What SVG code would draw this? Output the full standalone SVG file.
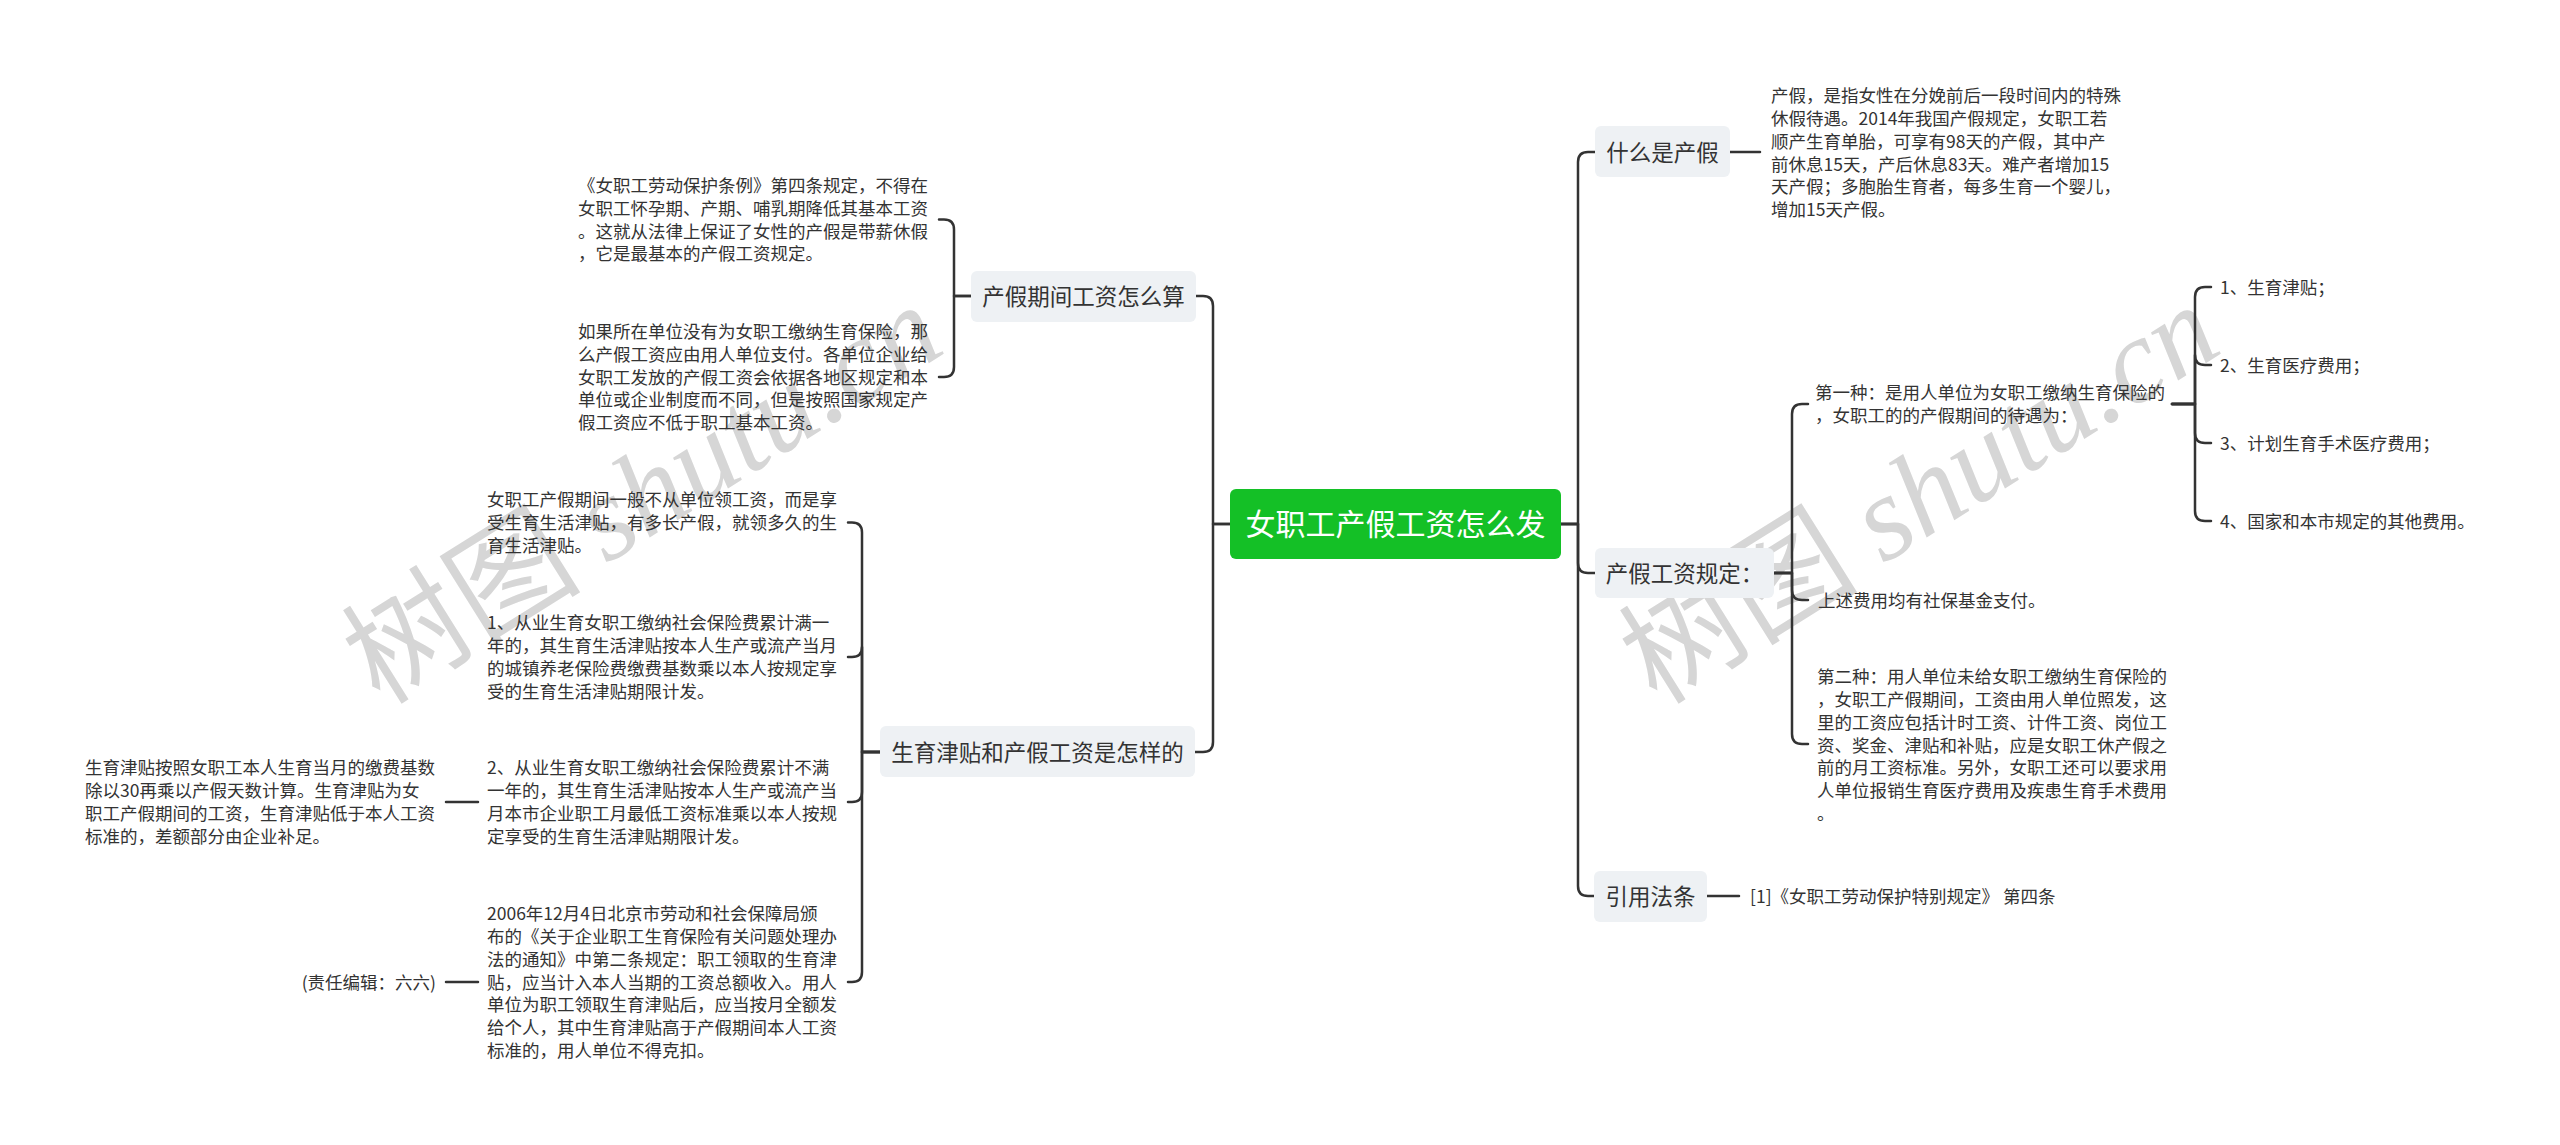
<svg xmlns="http://www.w3.org/2000/svg" width="2560" height="1145" viewBox="0 0 2560 1145">
<style>
text{font-family:'Noto Sans CJK SC','Noto Sans CJK JP',sans-serif}
.lf{font-size:17.5px;fill:#333}
.br{font-size:22.5px;fill:#333;text-anchor:middle}
.ct{font-size:30px;fill:#fff;text-anchor:middle}
.bx{fill:#EEF1F4}
.ln{fill:none;stroke:#333;stroke-width:2.5;stroke-linecap:round;stroke-linejoin:round}
.wm{font-size:120px;fill:#D6D6D6}
.wm .en{font-family:'Liberation Serif',serif;font-style:italic}
</style>
<rect width="2560" height="1145" fill="#fff"/>
<g id="watermark">
<text class="wm" transform="translate(380,706) rotate(-32)">树图 <tspan class="en">shutu.cn</tspan></text>
<text class="wm" transform="translate(1657,706) rotate(-32)">树图 <tspan class="en">shutu.cn</tspan></text>
</g>
<g id="connectors" class="ln">
<path d="M1561,524 H1578 V162 Q1578,152 1588,152 H1595"/>
<path d="M1561,524 H1578 V563 Q1578,573 1588,573 H1595"/>
<path d="M1561,524 H1578 V886 Q1578,896 1588,896 H1594"/>
<path d="M1230,524 H1213 V306 Q1213,296 1203,296 H1196"/>
<path d="M1230,524 H1213 V742 Q1213,752 1203,752 H1195"/>
<path d="M1730,152 H1760"/>
<path d="M1707,896 H1739"/>
<path d="M1774,573 H1792 V414 Q1792,404 1802,404 H1808"/>
<path d="M1774,573 H1792 V590 Q1792,600 1802,600 H1808"/>
<path d="M1774,573 H1792 V734 Q1792,744 1802,744 H1808"/>
<path d="M2172,404 H2195 V297 Q2195,287 2205,287 H2211"/>
<path d="M2172,404 H2195 V355 Q2195,365 2205,365 H2211"/>
<path d="M2172,404 H2195 V433 Q2195,443 2205,443 H2211"/>
<path d="M2172,404 H2195 V511 Q2195,521 2205,521 H2211"/>
<path d="M971,296 H954 V229.5 Q954,219.5 944,219.5 H939"/>
<path d="M971,296 H954 V367 Q954,377 944,377 H939"/>
<path d="M880,752 H862 V532.5 Q862,522.5 852,522.5 H848"/>
<path d="M880,752 H862 V647 Q862,657 852,657 H848"/>
<path d="M880,752 H862 V792 Q862,802 852,802 H848"/>
<path d="M880,752 H862 V972 Q862,982 852,982 H848"/>
<path d="M478,802 H446"/>
<path d="M478,982 H446"/>
</g>
<g id="root">
<rect x="1230" y="489" width="331" height="70" rx="6" fill="#14C026"/>
<text class="ct" x="1395.5" y="535.4">女职工产假工资怎么发</text>
</g>
<g id="n-what">
<rect class="bx" x="1595" y="126" width="135" height="51" rx="6"/>
<text class="br" x="1662.5" y="160.5">什么是产假</text>
</g>
<g id="n-what-leaf">
<text class="lf">
<tspan x="1771" y="102.1">产假，是指女性在分娩前后一段时间内的特殊</tspan>
<tspan x="1771" y="124.9">休假待遇。2014年我国产假规定，女职工若</tspan>
<tspan x="1771" y="147.7">顺产生育单胎，可享有98天的产假，其中产</tspan>
<tspan x="1771" y="170.5">前休息15天，产后休息83天。难产者增加15</tspan>
<tspan x="1771" y="193.3">天产假；多胞胎生育者，每多生育一个婴儿，</tspan>
<tspan x="1771" y="216.1">增加15天产假。</tspan>
</text>
</g>
<g id="n-rule">
<rect class="bx" x="1595" y="548" width="179" height="50" rx="6"/>
<text class="br" x="1684.5" y="581.5">产假工资规定：</text>
</g>
<g id="n-rule-1">
<text class="lf">
<tspan x="1815" y="399.2">第一种：是用人单位为女职工缴纳生育保险的</tspan>
<tspan x="1815" y="422">，女职工的的产假期间的待遇为：</tspan>
</text>
</g>
<g id="n-rule-1-a"><text class="lf" x="2220" y="293.6">1、生育津贴；</text></g>
<g id="n-rule-1-b"><text class="lf" x="2220" y="371.6">2、生育医疗费用；</text></g>
<g id="n-rule-1-c"><text class="lf" x="2220" y="449.6">3、计划生育手术医疗费用；</text></g>
<g id="n-rule-1-d"><text class="lf" x="2220" y="527.6">4、国家和本市规定的其他费用。</text></g>
<g id="n-rule-2"><text class="lf" x="1818" y="606.6">上述费用均有社保基金支付。</text></g>
<g id="n-rule-3">
<text class="lf">
<tspan x="1817" y="683.2">第二种：用人单位未给女职工缴纳生育保险的</tspan>
<tspan x="1817" y="706">，女职工产假期间，工资由用人单位照发，这</tspan>
<tspan x="1817" y="728.8">里的工资应包括计时工资、计件工资、岗位工</tspan>
<tspan x="1817" y="751.6">资、奖金、津贴和补贴，应是女职工休产假之</tspan>
<tspan x="1817" y="774.4">前的月工资标准。另外，女职工还可以要求用</tspan>
<tspan x="1817" y="797.2">人单位报销生育医疗费用及疾患生育手术费用</tspan>
<tspan x="1817" y="820">。</tspan>
</text>
</g>
<g id="n-law">
<rect class="bx" x="1594" y="871" width="113" height="51" rx="6"/>
<text class="br" x="1650.5" y="904.5">引用法条</text>
</g>
<g id="n-law-leaf"><text class="lf" x="1750" y="902.6">[1]《女职工劳动保护特别规定》 第四条</text></g>
<g id="n-calc">
<rect class="bx" x="971" y="271" width="225" height="51" rx="6"/>
<text class="br" x="1083.5" y="304.5">产假期间工资怎么算</text>
</g>
<g id="n-calc-1">
<text class="lf">
<tspan x="578" y="191.9">《女职工劳动保护条例》第四条规定，不得在</tspan>
<tspan x="578" y="214.7">女职工怀孕期、产期、哺乳期降低其基本工资</tspan>
<tspan x="578" y="237.5">。这就从法律上保证了女性的产假是带薪休假</tspan>
<tspan x="578" y="260.3">，它是最基本的产假工资规定。</tspan>
</text>
</g>
<g id="n-calc-2">
<text class="lf">
<tspan x="578" y="338">如果所在单位没有为女职工缴纳生育保险，那</tspan>
<tspan x="578" y="360.8">么产假工资应由用人单位支付。各单位企业给</tspan>
<tspan x="578" y="383.6">女职工发放的产假工资会依据各地区规定和本</tspan>
<tspan x="578" y="406.4">单位或企业制度而不同，但是按照国家规定产</tspan>
<tspan x="578" y="429.2">假工资应不低于职工基本工资。</tspan>
</text>
</g>
<g id="n-allow">
<rect class="bx" x="880" y="726" width="315" height="51" rx="6"/>
<text class="br" x="1037.5" y="760.5">生育津贴和产假工资是怎样的</text>
</g>
<g id="n-allow-1">
<text class="lf">
<tspan x="487" y="506.3">女职工产假期间一般不从单位领工资，而是享</tspan>
<tspan x="487" y="529.1">受生育生活津贴，有多长产假，就领多久的生</tspan>
<tspan x="487" y="551.9">育生活津贴。</tspan>
</text>
</g>
<g id="n-allow-2">
<text class="lf">
<tspan x="487" y="629.4">1、从业生育女职工缴纳社会保险费累计满一</tspan>
<tspan x="487" y="652.2">年的，其生育生活津贴按本人生产或流产当月</tspan>
<tspan x="487" y="675">的城镇养老保险费缴费基数乘以本人按规定享</tspan>
<tspan x="487" y="697.8">受的生育生活津贴期限计发。</tspan>
</text>
</g>
<g id="n-allow-3">
<text class="lf">
<tspan x="487" y="774.4">2、从业生育女职工缴纳社会保险费累计不满</tspan>
<tspan x="487" y="797.2">一年的，其生育生活津贴按本人生产或流产当</tspan>
<tspan x="487" y="820">月本市企业职工月最低工资标准乘以本人按规</tspan>
<tspan x="487" y="842.8">定享受的生育生活津贴期限计发。</tspan>
</text>
</g>
<g id="n-allow-3-leaf">
<text class="lf">
<tspan x="85" y="774.4">生育津贴按照女职工本人生育当月的缴费基数</tspan>
<tspan x="85" y="797.2">除以30再乘以产假天数计算。生育津贴为女</tspan>
<tspan x="85" y="820">职工产假期间的工资，生育津贴低于本人工资</tspan>
<tspan x="85" y="842.8">标准的，差额部分由企业补足。</tspan>
</text>
</g>
<g id="n-allow-4">
<text class="lf">
<tspan x="487" y="920.2">2006年12月4日北京市劳动和社会保障局颁</tspan>
<tspan x="487" y="943">布的《关于企业职工生育保险有关问题处理办</tspan>
<tspan x="487" y="965.8">法的通知》中第二条规定：职工领取的生育津</tspan>
<tspan x="487" y="988.6">贴，应当计入本人当期的工资总额收入。用人</tspan>
<tspan x="487" y="1011.4">单位为职工领取生育津贴后，应当按月全额发</tspan>
<tspan x="487" y="1034.2">给个人，其中生育津贴高于产假期间本人工资</tspan>
<tspan x="487" y="1057">标准的，用人单位不得克扣。</tspan>
</text>
</g>
<g id="n-allow-4-leaf"><text class="lf" x="436" y="988.6" text-anchor="end">(责任编辑：六六)</text></g>
</svg>
